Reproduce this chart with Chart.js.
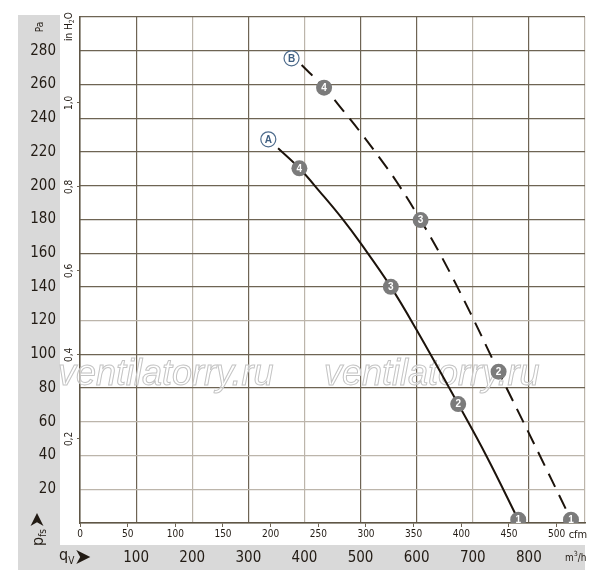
<!DOCTYPE html>
<html>
<head>
<meta charset="utf-8">
<script src="https://cdn.jsdelivr.net/npm/chart.js@4.4.1/dist/chart.umd.min.js"></script>
<style>
  html, body { margin: 0; padding: 0; background: #fff; }
  #wrap { width: 600px; height: 588px; position: relative; }
</style>
</head>
<body>
<div id="wrap"><canvas id="fanChart"></canvas></div>
<script>
// Kennlinien A (durchgezogen) und B (gestrichelt), q in m3/h, p in Pa
const qA = [353, 391, 428, 466, 502, 554, 600, 674, 725, 781];
const pA = [222.2, 210.3, 196.2, 181, 165, 140, 114.4, 70.5, 39.3, 2];
const qB = [395, 435, 469, 499, 535, 564, 607, 645, 695, 746, 807, 875];
const pB = [271.5, 258.1, 244.5, 232, 216, 202.5, 179.6, 157.5, 125, 89.7, 48.5, 2];

// Betriebspunkte 4..1
const markNum = ['4', '3', '2', '1'];
const markQA = [391, 554, 674, 781];
const markPA = [210.3, 140, 70.5, 2];
const markQB = [435, 607, 746, 875];
const markPB = [258.1, 179.6, 89.7, 2];

// Kurvenbezeichnung
const curveNames = ['A', 'B'];
const nameQ = [335.6, 377];
const nameP = [227.5, 275.5];

// Achsen
const paMax = 300, qMax = 900;
const cfmTicks = [0, 50, 100, 150, 200, 250, 300, 350, 400, 450, 500];
const inhTicks = [0.2, 0.4, 0.6, 0.8, 1.0];
const M3H_PER_CFM = 1.699, PA_PER_INH2O = 249.1;

const lightQ = [200, 400, 700, 900];
const lightP = [20, 40, 60, 120];

const NARROW = '"DejaVu Sans Condensed", "Liberation Sans", sans-serif';
const INK = '#221b14';
const GRID_DARK = '#6e6454';
const GRID_LIGHT = '#bcb5ab';

const pts = (xs, ys) => xs.map((x, i) => ({ x: x, y: ys[i] }));

function arrowHead(ctx, x, y, s) {
  ctx.beginPath();
  ctx.moveTo(x, y - s / 2);
  ctx.lineTo(x + s, y);
  ctx.lineTo(x, y + s / 2);
  ctx.lineTo(x + s * 0.28, y);
  ctx.closePath();
  ctx.fill();
}

const decoPlugin = {
  id: 'deco',
  beforeDraw(chart) {
    const c = chart.ctx;
    c.save();
    c.fillStyle = '#d9d9d9';
    c.fillRect(18, 15, 42, 555);
    c.fillRect(18, 545, 567, 25);
    c.restore();
  },
  beforeDatasetsDraw(chart) {
    const c = chart.ctx;
    c.save();
    c.font = 'italic 36px "Liberation Sans", Arial, sans-serif';
    c.textBaseline = 'alphabetic';
    c.fillStyle = 'rgba(255,255,255,0.55)';
    c.strokeStyle = '#c4c4c4';
    c.lineWidth = 1;
    [58, 324].forEach(x => {
      c.fillText('ventilatorry.ru', x, 385);
      c.strokeText('ventilatorry.ru', x, 385);
    });
    c.restore();
  },
  afterDatasetsDraw(chart) {
    const c = chart.ctx;
    c.save();
    c.textAlign = 'center';
    c.textBaseline = 'middle';
    chart.data.datasets.forEach((ds, di) => {
      if (!ds.tags) return;
      const meta = chart.getDatasetMeta(di);
      c.fillStyle = ds.tagColor;
      c.font = ds.tagFont;
      meta.data.forEach((el, i) => c.fillText(ds.tags[i], el.x, el.y + 0.5));
    });

    const cfm = chart.scales.cfm, inh = chart.scales.inh;
    c.fillStyle = INK;

    // in H2O Beschriftung (gedreht)
    c.font = '10px ' + NARROW;
    inhTicks.forEach(v => {
      const y = inh.getPixelForValue(v);
      c.save();
      c.translate(69, y);
      c.rotate(-Math.PI / 2);
      c.fillText(v.toFixed(1).replace('.', ','), 0, 0);
      c.restore();
    });
    c.save();
    c.translate(69, 27);
    c.rotate(-Math.PI / 2);
    c.textAlign = 'left';
    c.font = '10px ' + NARROW;
    c.fillText('in H', -14, 0);
    let w = c.measureText('in H').width;
    c.font = '7px ' + NARROW;
    c.fillText('2', -14 + w, 3);
    let w2 = c.measureText('2').width;
    c.font = '10px ' + NARROW;
    c.fillText('O', -14 + w + w2, 0);
    c.restore();

    // Pa oben links
    c.save();
    c.translate(40, 27);
    c.rotate(-Math.PI / 2);
    c.font = '10px ' + NARROW;
    c.fillText('Pa', 0, 0);
    c.restore();

    // p_fs mit Pfeil
    c.save();
    c.translate(39, 546);
    c.rotate(-Math.PI / 2);
    c.textAlign = 'left';
    c.font = '16px ' + NARROW;
    c.fillText('p', 0, 0);
    let wp = c.measureText('p').width;
    c.font = '10px ' + NARROW;
    c.fillText('fs', wp, 4);
    let wf = c.measureText('fs').width;
    arrowHead(c, wp + wf + 3, -2, 13);
    c.restore();

    // q_V mit Pfeil
    c.textAlign = 'left';
    c.font = '16px ' + NARROW;
    c.fillText('q', 59, 556);
    let wq = c.measureText('q').width;
    c.font = '10px ' + NARROW;
    c.fillText('V', 59 + wq, 561);
    let wv = c.measureText('V').width;
    arrowHead(c, 59 + wq + wv + 2, 557, 14);

    // Einheiten
    c.font = '11px ' + NARROW;
    c.fillText('cfm', cfm.getPixelForValue(500) + 12, 535);
    c.font = '10px ' + NARROW;
    c.fillText('m', 565, 558);
    let wm = c.measureText('m').width;
    c.font = '7px ' + NARROW;
    c.fillText('3', 565 + wm, 554);
    let w3 = c.measureText('3').width;
    c.font = '10px ' + NARROW;
    c.fillText('/h', 565 + wm + w3, 558);
    c.restore();
  }
};

document.addEventListener('DOMContentLoaded', () => {
  const ctx = document.getElementById('fanChart');
  new Chart(ctx, {
    type: 'scatter',
    data: {
      datasets: [
        {
          data: pts(nameQ, nameP),
          tags: curveNames,
          tagColor: '#3f5f82',
          tagFont: 'bold 10px "Liberation Sans", Arial, sans-serif',
          pointRadius: 7.5,
          pointBackgroundColor: '#fff',
          pointBorderColor: '#4d6b8c',
          pointBorderWidth: 1.2,
          showLine: false
        },
        {
          data: pts(markQA, markPA),
          tags: markNum,
          tagColor: '#fff',
          tagFont: 'bold 10px "Liberation Sans", Arial, sans-serif',
          pointRadius: 8,
          pointBackgroundColor: '#7b7b7b',
          pointBorderWidth: 0,
          showLine: false
        },
        {
          data: pts(markQB, markPB),
          tags: markNum,
          tagColor: '#fff',
          tagFont: 'bold 10px "Liberation Sans", Arial, sans-serif',
          pointRadius: 8,
          pointBackgroundColor: '#7b7b7b',
          pointBorderWidth: 0,
          showLine: false
        },
        {
          data: pts(qA, pA),
          showLine: true,
          borderColor: '#1c130b',
          borderWidth: 2,
          pointRadius: 0,
          tension: 0.4
        },
        {
          data: pts(qB, pB),
          showLine: true,
          borderColor: '#1c130b',
          borderWidth: 2,
          borderDash: [15, 9],
          pointRadius: 0,
          tension: 0.4
        }
      ]
    },
    options: {
      responsive: true,
      maintainAspectRatio: false,
      animation: false,
      layout: { padding: { left: 18, right: 15, top: 17, bottom: 18 } },
      plugins: {
        legend: { display: false },
        tooltip: { enabled: false }
      },
      scales: {
        x: {
          type: 'linear',
          position: 'bottom',
          weight: 2,
          min: 0,
          max: qMax,
          ticks: {
            stepSize: 100,
            padding: 4,
            color: INK,
            font: { family: NARROW, size: 15 },
            callback: v => (v > 0 && v < qMax) ? v : ''
          },
          grid: {
            color: c => lightQ.includes(c.tick && c.tick.value) ? GRID_LIGHT : GRID_DARK,
            lineWidth: 1.2,
            drawTicks: false
          },
          border: { display: false },
          afterFit: s => { s.height = 25; }
        },
        cfm: {
          type: 'linear',
          position: 'bottom',
          weight: 1,
          min: 0,
          max: qMax / M3H_PER_CFM,
          afterBuildTicks: s => { s.ticks = cfmTicks.map(v => ({ value: v })); },
          ticks: {
            padding: 1,
            color: INK,
            font: { family: NARROW, size: 10 }
          },
          grid: { drawOnChartArea: false, tickLength: 4, color: GRID_DARK },
          border: { display: true, color: '#5f5646', width: 1.5 },
          afterFit: s => { s.height = 22; }
        },
        y: {
          type: 'linear',
          position: 'left',
          weight: 2,
          min: 0,
          max: paMax,
          ticks: {
            stepSize: 20,
            padding: 4,
            color: INK,
            font: { family: NARROW, size: 15 },
            callback: v => (v > 0 && v < paMax) ? v : ''
          },
          grid: {
            color: c => lightP.includes(c.tick && c.tick.value) ? GRID_LIGHT : GRID_DARK,
            lineWidth: 1.2,
            drawTicks: false
          },
          border: { display: false },
          afterFit: s => { s.width = 42; }
        },
        inh: {
          type: 'linear',
          position: 'left',
          weight: 1,
          min: 0,
          max: paMax / PA_PER_INH2O,
          afterBuildTicks: s => { s.ticks = inhTicks.map(v => ({ value: v })); },
          ticks: { display: false },
          grid: { drawOnChartArea: false, tickLength: 3, color: GRID_DARK },
          border: { display: true, color: '#5f5646', width: 1.5 },
          afterFit: s => { s.width = 20; }
        }
      }
    },
    plugins: [decoPlugin]
  });
});
</script>
</body>
</html>
